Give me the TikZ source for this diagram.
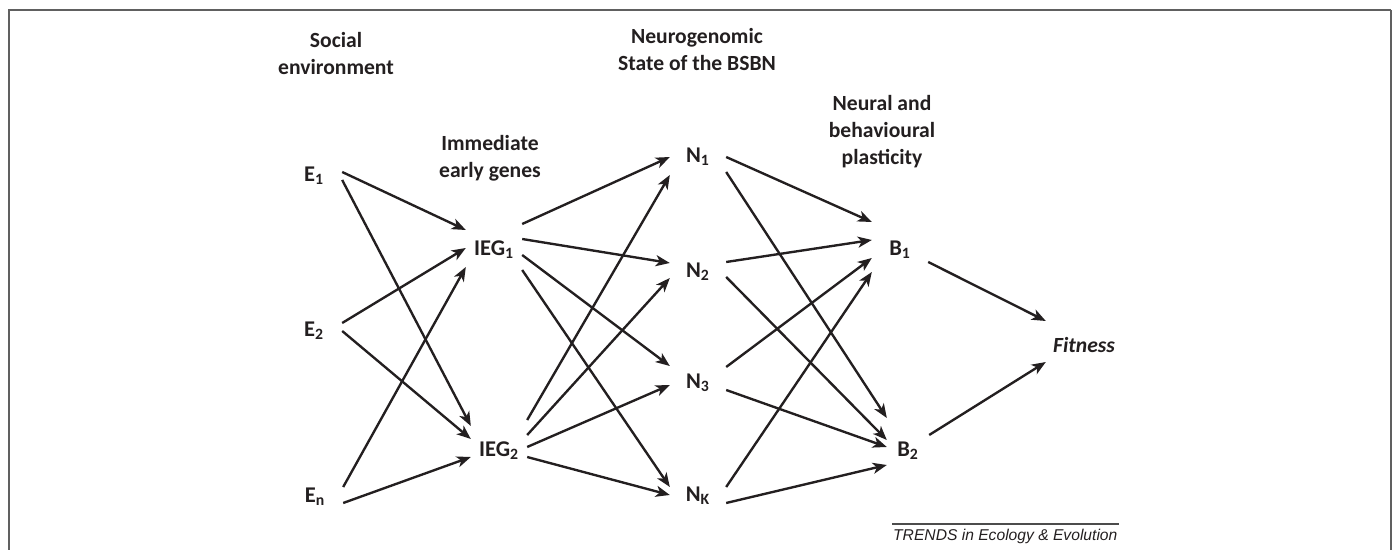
\documentclass[tikz,border=0pt]{standalone}
\usepackage{fontspec}
\setmainfont{Carlito}
\newfontfamily\trendsfont{Liberation Sans}
\usepackage{tikz}
\usetikzlibrary{arrows.meta, calc}
\tikzset{>={Stealth[length=8pt, width=6.3pt, inset=2.2pt]}}
\definecolor{ink}{RGB}{35,31,32}
\tikzset{
	lbl/.style={font=\bfseries\fontsize{12.8}{15.3}\selectfont, text=ink, inner sep=0pt, text height=8.1pt, text depth=0pt, minimum width=1.08cm},
	head/.style={font=\bfseries\fontsize{12.3}{15.3}\selectfont, text=ink, align=center, inner sep=0pt, anchor=north}
}
\newcommand{\conn}[4]{
	\draw[->]($(#1.east)+(0, #2)$)--($(#3.west)+(0, #4)$)
}

\begin{document}
\begin{tikzpicture}[x=.02cm, y=-.02cm, line width=1.35pt, draw=ink]
    \useasboundingbox(0, 0) rectangle (1397, 550);
    \draw[line width=1pt, gray!75!black](9, 550)--(9, 10)--(1391, 10);
    \draw[line width=1.6pt, gray!75!black](1391, 10)--(1391, 550);
    % column headings
    \node[head](soc) at (336, 31){Social\\environment};
    \node[head](ieg) at (490, 134){Immediate\\early genes};
    \node[head](ngs) at (697, 27){Neurogenomic\\State of the BSBN};
    \node[head](nbp) at (882, 94){Neural and\\behavioural\\plasticity};
    % nodes
    \node[lbl](E1) at (314, 174){E\textsubscript{1}};
    \node[lbl](E2) at (314, 329){E\textsubscript{2}};
    \node[lbl](En) at (315, 495){E\textsubscript{n}};
    \node[lbl](IEG1) at (494, 248){IEG\textsubscript{1}};
    \node[lbl](IEG2) at (499, 449){IEG\textsubscript{2}};
    \node[lbl](N1) at (698, 155){N\textsubscript{1}};
    \node[lbl](N2) at (698, 270){N\textsubscript{2}};
    \node[lbl](N3) at (698, 381){N\textsubscript{3}};
    \node[lbl](NK) at (698, 494){N\textsubscript{K}};
    \node[lbl](B1) at (900, 248){B\textsubscript{1}};
    \node[lbl, minimum width=.8cm](B2) at (908, 449){B\textsubscript{2}};
    \node[lbl, font=\bfseries\itshape\fontsize{12.3}{15.3}\selectfont, minimum width=1.48cm](fit) at (1084, 345){Fitness};
    % connectors
    \conn{E1}{-2}{IEG1}{-18};
    \conn{E1}{6}{IEG2}{-23};
    \conn{E2}{-6}{IEG1}{0};
    \conn{E2}{2}{IEG2}{-10};
    \conn{En}{-8}{IEG1}{19};
    \conn{En}{8}{IEG2}{8};
    \conn{IEG1}{-24}{N1}{2};
    \conn{IEG1}{-9}{N2}{-7};
    \conn{IEG1}{7}{N3}{-15};
    \conn{IEG1}{22}{NK}{-7};
    \conn{IEG2}{-29}{N1}{20};
    \conn{IEG2}{-14}{N2}{8};
    \conn{IEG2}{-2}{N3}{4};
    \conn{IEG2}{8}{NK}{1};
    \conn{N1}{2}{B1}{-26};
    \conn{N1}{17}{B2}{-31};
    \conn{N2}{-8}{B1}{-8};
    \conn{N2}{7}{B2}{-9};
    \conn{N3}{-14}{B1}{10};
    \conn{N3}{9}{B2}{-2};
    \conn{NK}{-7}{B1}{24};
    \conn{NK}{9}{B2}{16};
    \conn{B1}{14}{fit}{-24};
    \conn{B2}{-14}{fit}{17};
    % credit line
    \node[font=\trendsfont\itshape\fontsize{8.9}{10}\selectfont, text=ink, inner xsep=0pt, inner ysep=2.3pt, anchor=north west](trends) at (892, 524){TRENDS in Ecology \& Evolution};
    \draw[line width=.6pt, gray!60!black](trends.north west)--(trends.north east);
\end{tikzpicture}
\end{document}
